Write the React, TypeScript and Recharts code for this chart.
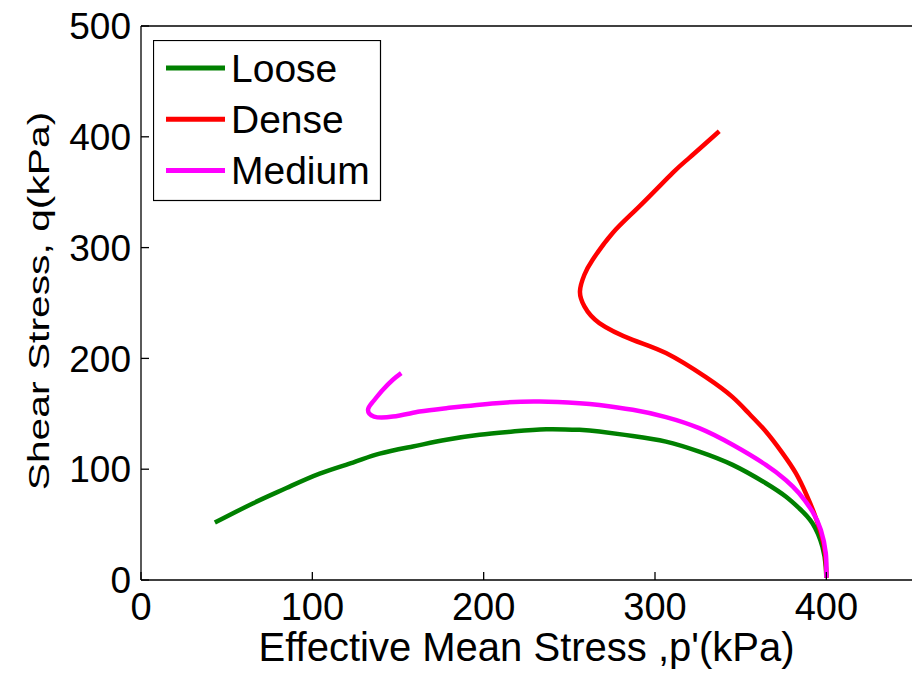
import { LineChart, Line, XAxis, YAxis, Legend } from 'recharts';

// effective mean stress p' (kPa) and shear stress q (kPa)
const looseP = [400, 399.7, 397.7, 391.9, 384.1, 376.3, 364.7, 345.3, 325.8, 306.4, 287, 267.5, 255.9, 236.5, 217, 197.6, 178.2, 158.7, 139.3, 123.7, 104.3, 84.9, 65.5, 43.1];
const looseQ = [2, 12, 30.1, 51.2, 64.8, 75.3, 87.3, 103.9, 115.9, 124.9, 130, 134, 135.5, 136.1, 134, 131, 126.5, 120.5, 114, 106, 96, 83, 69.3, 51.8];

const denseP = [400, 399.3, 396.8, 392.9, 388, 382.2, 374.4, 364.7, 355, 345.3, 329.7, 306.4, 287, 267.5, 258.8, 256.2, 258.8, 263.6, 275.3, 290.9, 310.3, 320, 337.5];
const denseQ = [2, 24, 42.2, 60.3, 78.3, 96.4, 114.5, 134, 150, 165, 183, 204.8, 216.8, 231.9, 246.9, 260.5, 275.5, 289, 313.2, 337.2, 367.4, 381, 405];

const mediumP = [400, 399.7, 396.8, 391.9, 384.1, 376.3, 364.7, 345.3, 325.8, 306.4, 287, 267.5, 255.9, 232.6, 207.3, 178.2, 162.6, 147, 136, 132.5, 135.4, 141.2, 147, 151.9];
const mediumQ = [2, 24, 45.2, 61.7, 78.3, 90.3, 103.9, 122, 137, 147, 153.6, 158, 159.6, 161, 159.6, 155.1, 152, 147.5, 147.5, 153.6, 161, 171.6, 180.7, 186.7];

const seriesNames = ['Loose', 'Dense', 'Medium'];
const xTicks = [0, 100, 200, 300, 400];
const yTicks = [0, 100, 200, 300, 400, 500];

const zip = (ps: number[], qs: number[]) => ps.map((p, i) => ({ p, q: qs[i] }));

const looseData = zip(looseP, looseQ);
const denseData = zip(denseP, denseQ);
const mediumData = zip(mediumP, mediumQ);

const FONT = '"Liberation Sans", Arial, Helvetica, sans-serif';

const renderLegend = ({ payload }: any) => {
  const items = (payload || [])
    .filter((e: any) => seriesNames.includes(e.value))
    .sort((a: any, b: any) => seriesNames.indexOf(a.value) - seriesNames.indexOf(b.value));
  return (
    <svg width={229} height={162} style={{ display: 'block' }}>
      <rect x={0.5} y={0.5} width={227} height={160} fill="#fff" stroke="#000" strokeWidth={1.2} />
      {items.map((entry: any, i: number) => {
        const cy = 28 + i * 51.2;
        return (
          <g key={`leg-${i}`}>
            <line x1={13} x2={72} y1={cy} y2={cy} stroke={entry.color} strokeWidth={5} />
            <text x={78} y={cy + 14} fontSize={39} fontFamily={FONT} fill="#000">
              {entry.value}
            </text>
          </g>
        );
      })}
    </svg>
  );
};

const XTitle = ({ viewBox }: any) => (
  <text
    x={viewBox.x + viewBox.width / 2}
    y={viewBox.y + 81}
    textAnchor="middle"
    fontSize={40}
    fontFamily={FONT}
    fill="#000"
  >
    Effective Mean Stress ,p'(kPa)
  </text>
);

const YTitle = ({ viewBox }: any) => (
  <text
    transform={`translate(${viewBox.x + 49},${viewBox.y + viewBox.height / 2 - 2}) rotate(-90) scale(1.36,1)`}
    x={0}
    y={0}
    textAnchor="middle"
    fontSize={30}
    fontFamily={FONT}
    fill="#000"
  >
    Shear Stress, q(kPa)
  </text>
);

const App = () => {
  return (
    <div style={{ position: 'absolute', left: 0, top: 0, width: 913, height: 673, overflow: 'hidden', background: '#fff' }}>
      <LineChart width={913} height={673} margin={{ top: 25, right: 0, bottom: 0, left: 0 }}>
        <XAxis
          xAxisId="b"
          type="number"
          dataKey="p"
          domain={[0, 450]}
          ticks={xTicks}
          allowDataOverflow
          height={93}
          tickSize={-8}
          tickMargin={21}
          stroke="#000"
          strokeWidth={1.3}
          tick={{ fill: '#000', fontSize: 38, fontFamily: FONT }}
          label={{ content: XTitle }}
        />
        <XAxis
          xAxisId="t"
          orientation="top"
          type="number"
          dataKey="p"
          domain={[0, 450]}
          ticks={xTicks}
          allowDataOverflow
          height={1}
          tickSize={-8}
          tick={false}
          stroke="#000"
          strokeWidth={1.3}
        />
        <YAxis
          yAxisId="l"
          type="number"
          domain={[0, 500]}
          ticks={yTicks}
          allowDataOverflow
          width={141}
          tickSize={-8}
          tickMargin={18}
          stroke="#000"
          strokeWidth={1.3}
          tick={{ fill: '#000', fontSize: 37, fontFamily: FONT }}
          label={{ content: YTitle }}
        />
        <YAxis
          yAxisId="r"
          orientation="right"
          type="number"
          domain={[0, 500]}
          ticks={yTicks}
          allowDataOverflow
          width={1}
          tickSize={-8}
          tick={false}
          axisLine={false}
          stroke="#000"
          strokeWidth={1.3}
        />
        <Legend
          content={renderLegend}
          layout="vertical"
          align="center"
          verticalAlign="middle"
          wrapperStyle={{ position: 'absolute', left: 153, top: 40, width: 229, height: 162 }}
        />
        <Line
          xAxisId="b"
          yAxisId="l"
          data={looseData}
          dataKey="q"
          name="Loose"
          type="natural"
          stroke="#008000"
          strokeWidth={4.5}
          dot={false}
          isAnimationActive={false}
        />
        <Line
          xAxisId="b"
          yAxisId="l"
          data={denseData}
          dataKey="q"
          name="Dense"
          type="natural"
          stroke="#ff0000"
          strokeWidth={4.5}
          dot={false}
          isAnimationActive={false}
        />
        <Line
          xAxisId="b"
          yAxisId="l"
          data={mediumData}
          dataKey="q"
          name="Medium"
          type="natural"
          stroke="#ff00ff"
          strokeWidth={4.5}
          dot={false}
          isAnimationActive={false}
        />
        {/* invisible series so the top and right frame axes get drawn */}
        <Line
          xAxisId="t"
          yAxisId="r"
          data={looseData}
          dataKey="q"
          name="frame"
          stroke="none"
          legendType="none"
          dot={false}
          activeDot={false}
          isAnimationActive={false}
        />
      </LineChart>
    </div>
  );
};

export default App;
